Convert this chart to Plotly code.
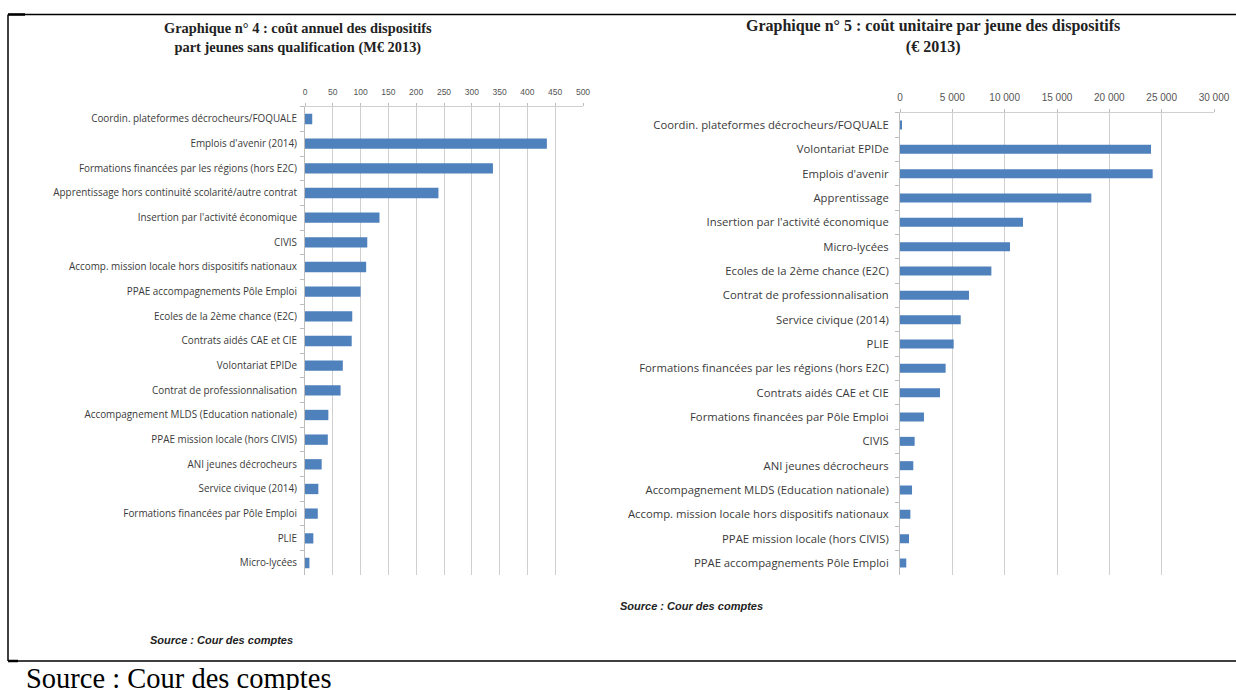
import plotly.graph_objects as go

W, H = 1236, 690

# Graphique n° 4 : coût annuel (M€ 2013)
annual_labels = [
    "Coordin. plateformes décrocheurs/FOQUALE",
    "Emplois d'avenir (2014)",
    "Formations financées par les régions (hors E2C)",
    "Apprentissage hors continuité scolarité/autre contrat",
    "Insertion par l'activité économique",
    "CIVIS",
    "Accomp. mission locale hors dispositifs nationaux",
    "PPAE accompagnements Pôle Emploi",
    "Ecoles de la 2ème chance (E2C)",
    "Contrats aidés CAE et CIE",
    "Volontariat EPIDe",
    "Contrat de professionnalisation",
    "Accompagnement MLDS (Education nationale)",
    "PPAE mission locale (hors CIVIS)",
    "ANI jeunes décrocheurs",
    "Service civique (2014)",
    "Formations financées par Pôle Emploi",
    "PLIE",
    "Micro-lycées",
]
annual_values = [13, 435, 338, 240, 134, 112, 110, 100, 85, 84, 68, 64, 42, 41, 30, 24, 23, 15, 8]
annual_ticks = [0, 50, 100, 150, 200, 250, 300, 350, 400, 450, 500]

# Graphique n° 5 : coût unitaire par jeune (€ 2013)
unit_labels = [
    "Coordin. plateformes décrocheurs/FOQUALE",
    "Volontariat EPIDe",
    "Emplois d'avenir",
    "Apprentissage",
    "Insertion par l'activité économique",
    "Micro-lycées",
    "Ecoles de la 2ème chance (E2C)",
    "Contrat de professionnalisation",
    "Service civique (2014)",
    "PLIE",
    "Formations financées par les régions (hors E2C)",
    "Contrats aidés CAE et CIE",
    "Formations financées par Pôle Emploi",
    "CIVIS",
    "ANI jeunes décrocheurs",
    "Accompagnement MLDS (Education nationale)",
    "Accomp. mission locale hors dispositifs nationaux",
    "PPAE mission locale (hors CIVIS)",
    "PPAE accompagnements Pôle Emploi",
]
unit_values = [100, 23980, 24140, 18280, 11750, 10510, 8730, 6590, 5800, 5130,
               4360, 3820, 2290, 1400, 1270, 1150, 990, 860, 600]
unit_ticks = [0, 5000, 10000, 15000, 20000, 25000, 30000]
unit_ticktext = ["0", "5 000", "10 000", "15 000", "20 000", "25 000", "30 000"]

BAR = "#4f81bd"
GRID = "#cfcfcf"
TXT = "#3a3a3a"
SANS = "Liberation Sans, Arial, sans-serif"
LABEL = "Open Sans, Liberation Sans, sans-serif"
SERIF = "Liberation Serif, Times New Roman, serif"


def px_x(v):
    return v / W


def px_y(v):
    return 1 - v / H


fig = go.Figure()
fig.add_trace(go.Bar(
    x=annual_values, y=annual_labels, orientation="h",
    marker=dict(color=BAR, line=dict(width=0)),
    xaxis="x", yaxis="y", width=0.42, showlegend=False,
))
fig.add_trace(go.Bar(
    x=unit_values, y=unit_labels, orientation="h",
    marker=dict(color=BAR, line=dict(width=0)),
    xaxis="x2", yaxis="y2", width=0.37, showlegend=False,
))

xcommon = dict(
    side="top", showgrid=True, gridcolor=GRID, gridwidth=1,
    showline=True, linecolor="#d0d0d0", linewidth=1,
    ticks="outside", ticklen=3, tickcolor="#bdbdbd",
    zeroline=False, fixedrange=True, automargin=False,
    ticklabelstandoff=4,
)
ycommon = dict(
    type="category", showgrid=False, showline=True, linecolor="#bdbdbd",
    linewidth=1, ticks="outside", ticklen=4, tickcolor="#bdbdbd",
    tickson="boundaries", automargin=False, fixedrange=True,
)

fig.update_layout(
    width=W, height=H,
    margin=dict(l=0, r=0, t=0, b=0),
    paper_bgcolor="white", plot_bgcolor="white",
    xaxis=dict(
        **xcommon, domain=[px_x(305), px_x(583)], range=[0, 500],
        tickvals=annual_ticks, anchor="y",
        tickfont=dict(family=SANS, size=8.5, color="#555"),
    ),
    yaxis=dict(
        **ycommon, domain=[px_y(575.3), px_y(106.7)],
        categoryorder="array", categoryarray=annual_labels,
        range=[18.5, -0.5], anchor="x", ticklabelstandoff=5,
        tickfont=dict(family=LABEL, size=9.9, color=TXT),
    ),
    xaxis2=dict(
        **xcommon, domain=[px_x(900), px_x(1214)], range=[0, 30000],
        tickvals=unit_ticks, ticktext=unit_ticktext, anchor="y2",
        tickfont=dict(family=SANS, size=10, color="#555"),
    ),
    yaxis2=dict(
        **ycommon, domain=[px_y(575.2), px_y(112.8)],
        categoryorder="array", categoryarray=unit_labels,
        range=[18.5, -0.5], anchor="x2", ticklabelstandoff=8,
        tickfont=dict(family=LABEL, size=11.3, color=TXT),
    ),
)

annotations = [
    dict(text="<b>Graphique n° 4 : coût annuel des dispositifs<br>part jeunes sans qualification (M€ 2013)</b>",
         x=px_x(298), y=px_y(38), font=dict(family=SERIF, size=14.4, color="#222")),
    dict(text="<b>Graphique n° 5 : coût unitaire par jeune des dispositifs<br>(€ 2013)</b>",
         x=px_x(933), y=px_y(37), font=dict(family=SERIF, size=16, color="#222")),
    dict(text="<i><b>Source : Cour des comptes</b></i>",
         x=px_x(691), y=px_y(606), font=dict(family=SANS, size=11, color="#222")),
    dict(text="<i><b>Source : Cour des comptes</b></i>",
         x=px_x(221), y=px_y(640), font=dict(family=SANS, size=11, color="#222")),
    dict(text="Source : Cour des comptes",
         x=px_x(24), y=px_y(678), xanchor="left",
         font=dict(family=SERIF, size=28.5, color="#000")),
]
for a in annotations:
    a.setdefault("xanchor", "center")
    a.update(xref="paper", yref="paper", yanchor="middle", showarrow=False, align="center")
fig.update_layout(annotations=annotations)

# Frame of the table cell holding both charts
frame = [
    (8, 14.5, W, 14.5, 1.5),
    (8, 14.5, 8, 661, 1.5),
    (8, 661, W, 661, 1.5),
    (8, 14.5, 25, 14.5, 2.5),
    (8, 661, 18, 661, 2.5),
]
shapes = []
for x0, y0, x1, y1, w in frame:
    shapes.append(dict(type="line", xref="paper", yref="paper",
                       x0=px_x(x0), y0=px_y(y0), x1=px_x(x1), y1=px_y(y1),
                       line=dict(color="#000", width=w)))
fig.update_layout(shapes=shapes)

fig.write_html("out.html")
